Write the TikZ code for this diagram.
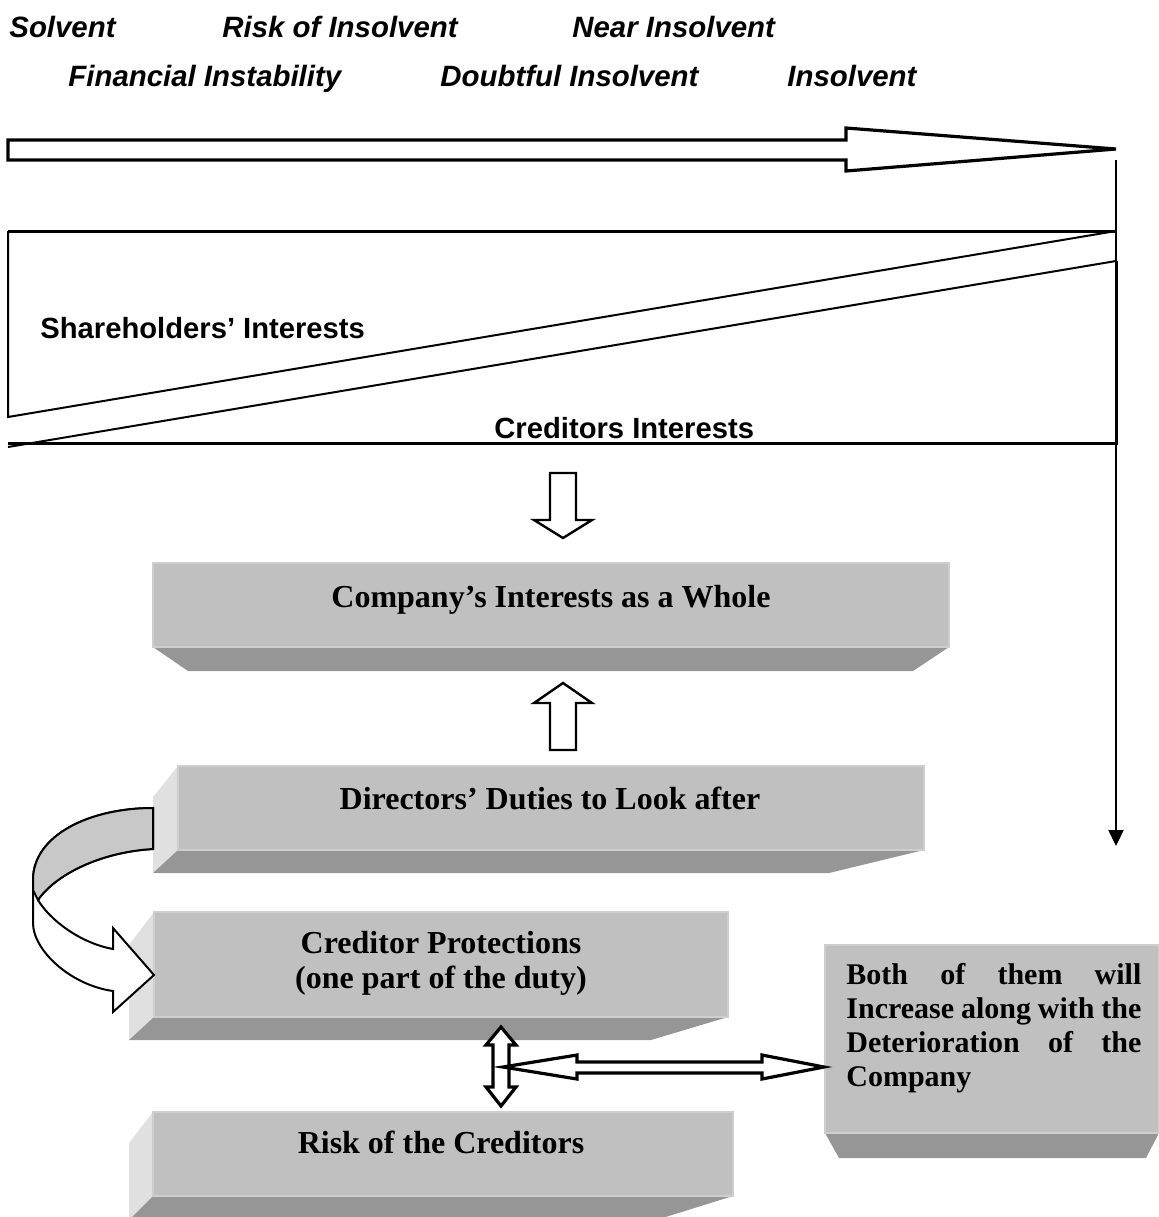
\documentclass[tikz,border=0pt]{standalone}
\usepackage{fontspec}
\setmainfont{Liberation Serif}
\setsansfont{Liberation Sans}
\usetikzlibrary{arrows.meta}
\definecolor{boxface}{RGB}{192,192,192}
\definecolor{boxrim}{RGB}{206,206,206}
\definecolor{boxdark}{RGB}{150,150,150}
\definecolor{boxlit}{RGB}{224,224,224}
\definecolor{bandgray}{RGB}{200,200,200}
\tikzset{
	boxfront/.style={fill=boxface, draw=boxrim, line width=0.8pt},
	boxbottom/.style={fill=boxdark},
	boxside/.style={fill=boxlit},
	hollowarrow/.style={draw=black, fill=white, line width=1.2pt},
	dblarrow/.style={draw=black, fill=white, line width=1.6pt},
	stagelabel/.style={font=\sffamily\bfseries\itshape\fontsize{14.7}{18}\selectfont, anchor=base west, inner sep=0pt},
	interestlabel/.style={font=\sffamily\bfseries\fontsize{14.6}{17}\selectfont, anchor=base west, inner sep=0pt},
	boxtext/.style={font=\bfseries\fontsize{16}{17.5}\selectfont, inner sep=0pt, align=center}
}
\begin{document}
\begin{tikzpicture}[x=0.5pt, y=-0.5pt]
	\useasboundingbox (0,0) rectangle (1159,1217);
	\node[stagelabel] (solvent) at (9,37) {Solvent};
	\node[stagelabel] (riskins) at (222,37) {Risk of Insolvent};
	\node[stagelabel] (nearins) at (572,37) {Near Insolvent};
	\node[stagelabel] (instab) at (68,86) {Financial Instability};
	\node[stagelabel] (doubtins) at (440,86) {Doubtful Insolvent};
	\node[stagelabel] (insolv) at (787,86) {Insolvent};
	\draw[line width=1.6pt] (8,140) -- (846,140) -- (846,128) -- (1116,149) -- (846,171) -- (846,160) -- (8,160) -- cycle;
	\coordinate (tstart) at (1116,160);
	\coordinate (tend) at (1116,846);
	\draw[line width=1.1pt, -{Triangle[width=7.5pt,length=8pt]}] (tstart) -- (tend);
	\draw[line width=1.5pt] (8,231) -- (1116,231);
	\draw[line width=1pt] (8,231) -- (8,417) -- (1116,231);
	\draw[line width=1pt] (8,447) -- (1116,261);
	\draw[line width=1.5pt] (8,443) -- (1116,443) -- (1116,261);
	\node[interestlabel] (sharehold) at (40,338) {Shareholders’ Interests};
	\node[interestlabel] (creditint) at (494,438) {Creditors Interests};
	\draw[hollowarrow] (550,473) -- (576,473) -- (576,520) -- (592,520) -- (563,538) -- (534,520) -- (550,520) -- cycle;
	\fill[boxbottom] (153,647) -- (949,647) -- (913,671) -- (188,671) -- cycle;
	\filldraw[boxfront] (153,563) rectangle (949,647);
	\node[boxtext, anchor=base] (company) at (551,607) {Company’s Interests as a Whole};
	\draw[hollowarrow] (550,750) -- (576,750) -- (576,703) -- (592,703) -- (563,683) -- (534,703) -- (550,703) -- cycle;
	\fill[boxside] (153,797) -- (178,766) -- (178,850) -- (153,873) -- cycle;
	\fill[boxbottom] (178,850) -- (924,850) -- (829,873) -- (153,873) -- cycle;
	\filldraw[boxfront] (178,766) rectangle (924,850);
	\node[boxtext, anchor=base] (duties) at (550,809) {Directors’ Duties to Look after};
	\fill[boxside] (129,945) -- (154,912) -- (154,1017) -- (129,1040) -- cycle;
	\fill[boxbottom] (154,1017) -- (728,1017) -- (651,1040) -- (129,1040) -- cycle;
	\filldraw[boxfront] (154,912) rectangle (728,1017);
	\node[boxtext, anchor=north] (protect) at (441,931) {Creditor Protections\\(one part of the duty)};
	\fill[boxside] (129,1143) -- (153,1112) -- (153,1196) -- (129,1220) -- cycle;
	\fill[boxbottom] (153,1196) -- (733,1196) -- (656,1220) -- (129,1220) -- cycle;
	\filldraw[boxfront] (153,1112) rectangle (733,1196);
	\node[boxtext, anchor=base] (riskcred) at (441,1153) {Risk of the Creditors};
	\fill[boxbottom] (825,1133) -- (1159,1133) -- (1146,1158) -- (839,1158) -- cycle;
	\filldraw[boxfront] (825,945) rectangle (1159,1133);
	\node[font=\bfseries\fontsize{15}{17}\selectfont, inner sep=0pt, anchor=north west, text width=147.5pt, align=justify] (bothinc) at (846,963) {Both of them will\linebreak Increase along with the\linebreak Deterioration of the\linebreak Company};
	\filldraw[fill=white, line width=1pt] (153,808) .. controls (90,808) and (33,835) .. (33,880) -- (33,923) .. controls (33,950) and (70,985) .. (113,991) -- (113,1012) -- (154,975) -- (113,928) -- (113,949) .. controls (80,943) and (50,920) .. (38,900) .. controls (55,875) and (100,852) .. (153,849) -- cycle;
	\filldraw[fill=bandgray, line width=1pt] (153,808) .. controls (90,808) and (33,835) .. (33,880) -- (33,890) -- (38,900) .. controls (55,875) and (100,852) .. (153,849) -- cycle;
	\draw[dblarrow] (493,1045) -- (486,1045) -- (501,1027) -- (516,1045) -- (509,1045) -- (509,1087) -- (516,1087) -- (501,1106) -- (486,1087) -- (493,1087) -- cycle;
	\draw[dblarrow] (503,1067) -- (577,1055) -- (577,1062) -- (762,1062) -- (762,1055) -- (824,1067) -- (762,1079) -- (762,1073) -- (577,1073) -- (577,1079) -- cycle;
\end{tikzpicture}
\end{document}
